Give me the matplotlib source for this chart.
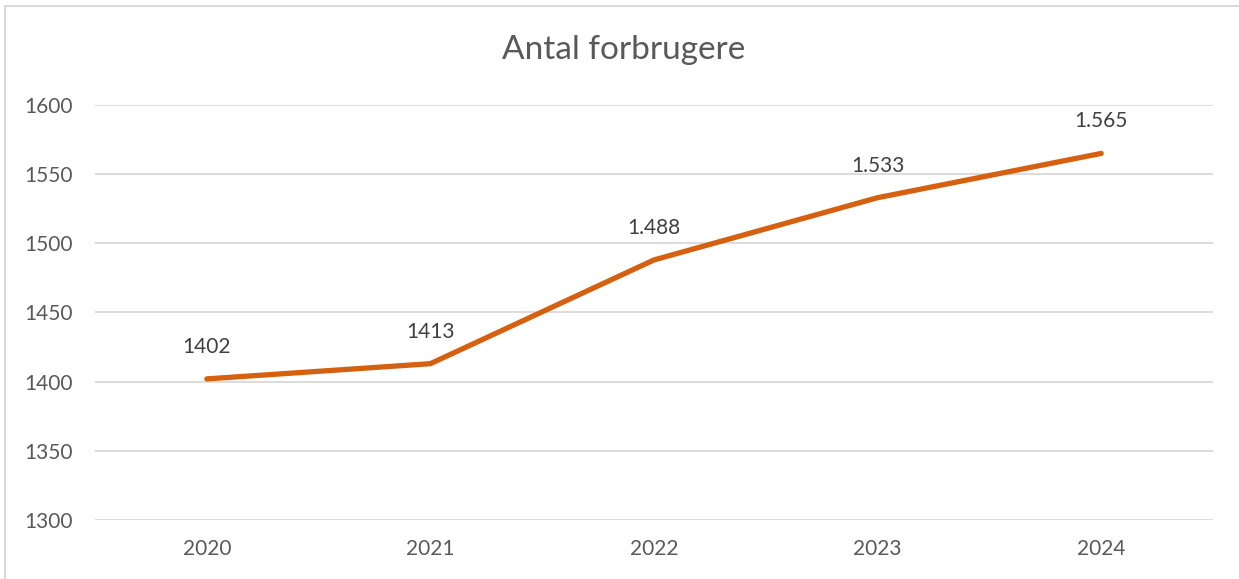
import matplotlib.pyplot as plt
from matplotlib.patches import Rectangle

years = ["2020", "2021", "2022", "2023", "2024"]
consumers = [1402, 1413, 1488, 1533, 1565]
point_labels = ["1402", "1413", "1.488", "1.533", "1.565"]

plt.rcParams['font.family'] = ['Lato', 'DejaVu Sans']
text_col = '#595959'
line_col = '#D5600F'

fig = plt.figure(figsize=(12.39, 5.79), dpi=100)
ax = fig.add_axes([95 / 1239, 1 - 520 / 579, (1213 - 95) / 1239, (520 - 105) / 579])

# chart frame (cropped at right/bottom like the screenshot)
fig.patches.append(Rectangle((5 / 1239, -0.2), 1.2, 1.2 - 6 / 579,
                             transform=fig.transFigure, fill=False,
                             edgecolor='#D9D9D9', linewidth=1.5))

x = list(range(len(years)))
ax.plot(x, consumers, color=line_col, linewidth=3.8, solid_capstyle='round', zorder=3)
for xi, yi, lab in zip(x, consumers, point_labels):
    ax.annotate(lab, (xi, yi), xytext=(0, 23), textcoords='offset points',
                ha='center', va='center', fontsize=15, color='#404040')

ax.set_xlim(-0.5, len(years) - 0.5)
ax.set_ylim(1300, 1600)
ax.set_yticks(range(1300, 1601, 50))
ax.set_xticks(x)
ax.set_xticklabels(years)
ax.grid(axis='y', color='#D9D9D9', linewidth=1.3)
ax.set_axisbelow(True)
for s in ax.spines.values():
    s.set_visible(False)
ax.tick_params(length=0, labelsize=15, labelcolor=text_col)
ax.tick_params(axis='y', pad=16)
ax.tick_params(axis='x', pad=14)

fig.text(624 / 1239, 1 - 50 / 579, "Antal forbrugere", ha='center', va='center',
         fontsize=24, color=text_col)

fig.savefig('out.png', dpi=100)
